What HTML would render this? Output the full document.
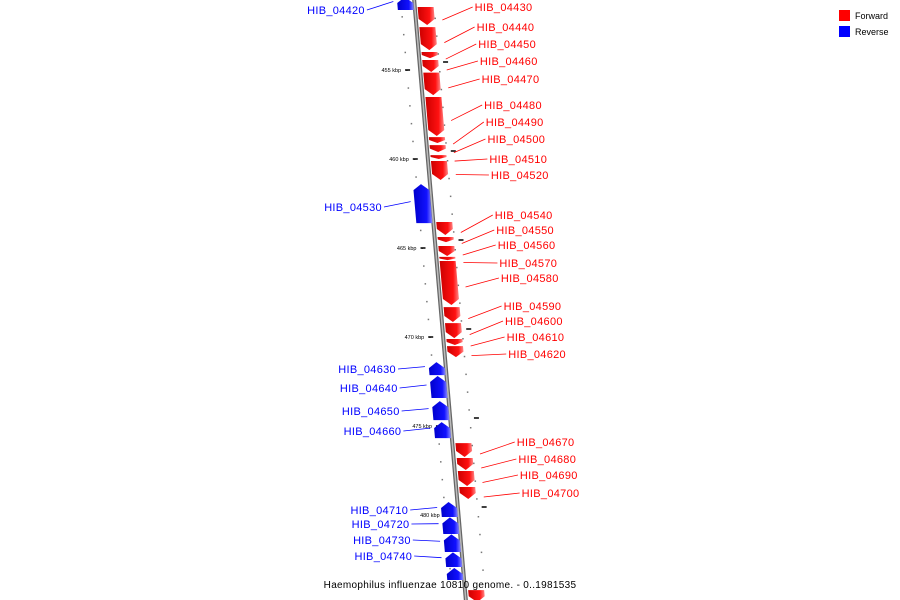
<!DOCTYPE html>
<html><head><meta charset="utf-8"><style>
body{margin:0;background:#fff;}
svg{display:block;font-family:"Liberation Sans","DejaVu Sans",sans-serif;}
</style></head><body>
<svg id="chart" width="900" height="600" viewBox="0 0 900 600">
<defs>
<linearGradient id="gf" x1="0" x2="1" y1="0" y2="0"><stop offset="0" stop-color="#c00"/><stop offset="0.7" stop-color="#f11"/><stop offset="1" stop-color="#f88"/></linearGradient>
<linearGradient id="gr" x1="0" x2="1" y1="0" y2="0"><stop offset="0" stop-color="#00c"/><stop offset="0.7" stop-color="#11f"/><stop offset="1" stop-color="#88f"/></linearGradient>
</defs>
<g id="ticks"></g>
<line x1="414" y1="-2" x2="466" y2="602" stroke="#666" stroke-width="4"/>
<line x1="414" y1="-2" x2="466" y2="602" stroke="#bbb" stroke-width="1.5"/>
<g id="genes"></g>
<g>
<rect x="839" y="10" width="11" height="11" fill="#f00"/>
<text x="855" y="19" font-size="9" fill="#000">Forward</text>
<rect x="839" y="26" width="11" height="11" fill="#00f"/>
<text x="855" y="35" font-size="9" fill="#000">Reverse</text>
</g>
<text x="450" y="588" font-size="10" text-anchor="middle" fill="#000" letter-spacing="0.3">Haemophilus influenzae 10810 genome. - 0..1981535</text>
</svg>
<script>
const geneNames=["HIB_04420","HIB_04430","HIB_04440","HIB_04450","HIB_04460","HIB_04470","HIB_04480","HIB_04490","HIB_04500","HIB_04510","HIB_04520","HIB_04530","HIB_04540","HIB_04550","HIB_04560","HIB_04570","HIB_04580","HIB_04590","HIB_04600","HIB_04610","HIB_04620","HIB_04630","HIB_04640","HIB_04650","HIB_04660","HIB_04670","HIB_04680","HIB_04690","HIB_04700","HIB_04710","HIB_04720","HIB_04730","HIB_04740","",""];
const geneStrands=["R","F","F","F","F","F","F","F","F","F","F","R","F","F","F","F","F","F","F","F","F","R","R","R","R","F","F","F","F","R","R","R","R","R","F"];
const geneStarts=[450.9,451.46,452.59,453.99,454.44,455.15,456.52,458.77,459.22,459.78,460.11,461.41,463.54,464.38,464.89,465.50,465.73,468.32,469.22,470.11,470.51,471.41,472.19,473.60,474.78,475.96,476.80,477.53,478.43,479.27,480.13,481.09,482.10,482.98,484.22];
const geneEnds=[451.63,452.47,453.88,454.33,455.11,456.41,458.71,459.10,459.61,460.00,461.18,463.60,464.27,464.67,465.45,465.68,468.20,469.16,470.06,470.45,471.13,472.14,473.43,474.67,475.68,476.74,477.47,478.37,479.10,480.11,481.07,482.08,482.92,483.65,484.9];
const labelYs=[10,7,27,44,61,79,105,122,139,159,175,207,215,230,245,263,278,306,321,337,354,369,388,411,431,442,459,475,493,510,524,540,556,0,0];
const majorTicks=[455,460,465,470,475,480];

const NS="http://www.w3.org/2000/svg";
function yOf(kbp){return 70+(kbp-455)*17.8;}
function lx(y){return 414+y*0.0867;}
function mk(tag,attrs,parent){const e=document.createElementNS(NS,tag);for(const k in attrs)e.setAttribute(k,attrs[k]);parent.appendChild(e);return e;}
const tg=document.getElementById('ticks');
for(let k=451;k<=485;k++){
  const y=yOf(k); if(y<5||y>575)continue;
  const d1=mk('rect',{x:lx(y)-14,y:y-0.5,width:1.5,height:1.5,fill:'#777'},tg);
  
  
  const d2=mk('rect',{x:lx(y)+19,y:y+1,width:1.5,height:1.5,fill:'#777'},tg);
  
  
}
majorTicks.forEach(k=>{
  const y=yOf(k);
  const t=mk('line',{x1:lx(y)-15,y1:y,x2:lx(y)-10,y2:y,stroke:'#000','stroke-width':1.5},tg);
  
  
  const t2=mk('line',{x1:lx(y)+23,y1:y-8,x2:lx(y)+28,y2:y-8,stroke:'#000','stroke-width':1.5},tg);
  
  
  const l=mk('text',{x:lx(y)-19,y:y+2,'font-size':5.5,'text-anchor':'end',fill:'#000'},tg);
  l.textContent=k+' kbp';
  
  
});
const gg=document.getElementById('genes');
geneNames.forEach((n,i)=>{
  const y0=yOf(geneStarts[i]),y1=yOf(geneEnds[i]);
  const fwd=geneStrands[i]==='F';
  const o=fwd?3:-17, w=16;
  const a=Math.min(6,(y1-y0)*0.5);
  let pts;
  if(fwd){
    pts=[[lx(y0)+o,y0],[lx(y0)+o+w,y0],[lx(y1-a)+o+w,y1-a],[lx(y1)+o+w/2,y1],[lx(y1-a)+o,y1-a]];
  }else{
    pts=[[lx(y0)+o+w/2,y0],[lx(y0+a)+o+w,y0+a],[lx(y1)+o+w,y1],[lx(y1)+o,y1],[lx(y0+a)+o,y0+a]];
  }
  const p=mk('polygon',{points:pts.map(q=>q.join(',')).join(' '),fill:fwd?'url(#gf)':'url(#gr)'},gg);
  
  
  if(!n)return;
  const col=fwd?'#f00':'#00f';
  const ly=labelYs[i], gm=(y0+y1)/2;
  if(fwd){
    const tx=lx(ly)+60+ly*0.01;
    const ln=mk('line',{x1:lx(gm)+o+w+8,y1:gm+4,x2:tx-2,y2:ly,stroke:col,'stroke-width':0.8},gg);
    
    
    const t=mk('text',{x:tx,y:ly+4,'font-size':11,fill:col,'letter-spacing':0.3},gg);
    t.textContent=n;
    
    
  }else{
    const tx=lx(ly)-50;
    const ln=mk('line',{x1:tx+2,y1:ly,x2:lx(gm)+o-4,y2:gm-2,stroke:col,'stroke-width':0.8},gg);
    
    
    const t=mk('text',{x:tx,y:ly+4,'font-size':11,fill:col,'text-anchor':'end','letter-spacing':0.3},gg);
    t.textContent=n;
    
    
  }
});
</script>
</body></html>
